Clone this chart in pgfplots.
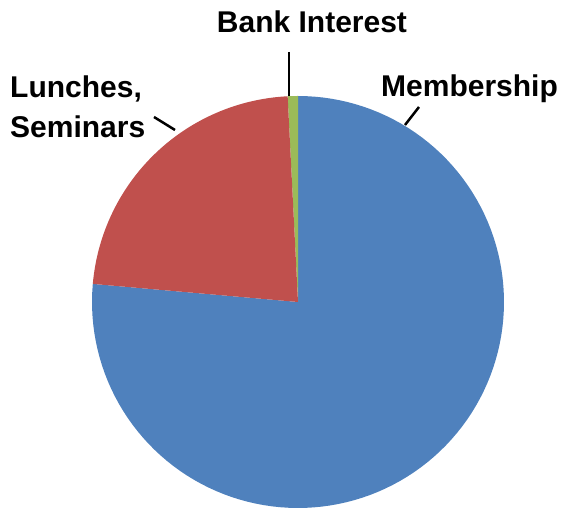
\documentclass[border=0pt]{standalone}
\usepackage{pgfplots}
\pgfplotsset{compat=1.18}
\usepackage{fontspec}
\setmainfont{Liberation Sans}
\definecolor{cblue}{HTML}{4F81BD}
\definecolor{cred}{HTML}{C0504D}
\definecolor{cgreen}{HTML}{9BBB59}
% shares of the pie, in percent
\def\pMember{76.4}
\def\pLunch{22.8}
\def\pBank{0.8}
\pgfmathsetmacro{\aBankEnd}{90+3.6*\pBank}
\pgfmathsetmacro{\aLunchEnd}{\aBankEnd+3.6*\pLunch}
\pgfmathsetmacro{\aMemberStart}{90-3.6*\pMember}
\begin{document}
\begin{tikzpicture}
\begin{axis}[
  scale only axis, width=563pt, height=508pt,
  xmin=0, xmax=563, ymin=0, ymax=508,
  hide axis, clip=false,
  font=\fontsize{30}{36}\selectfont\bfseries,
]
\path (axis cs:0,0) rectangle (axis cs:563,508);
% Membership
\addplot[fill=cblue, draw=none, domain=\aMemberStart:90, samples=120, variable=\t]
  ({298+206*cos(t)},{206+206*sin(t)}) -- (axis cs:298,206) -- cycle;
% Bank Interest
\addplot[fill=cgreen, draw=none, domain=90:\aBankEnd, samples=5, variable=\t]
  ({298+206*cos(t)},{206+206*sin(t)}) -- (axis cs:298,206) -- cycle;
% Lunches, Seminars
\addplot[fill=cred, draw=none, domain=\aBankEnd:\aLunchEnd, samples=60, variable=\t]
  ({298+206*cos(t)},{206+206*sin(t)}) -- (axis cs:298,206) -- cycle;
% leader lines
\draw[black, line width=2.5pt] (axis cs:289,456) -- (axis cs:289,412);
\draw[black, line width=2.5pt] (axis cs:419,401) -- (axis cs:405,383);
\draw[black, line width=2.5pt] (axis cs:154,391) -- (axis cs:175,378);
% labels
\node[anchor=base, inner sep=0pt] at (axis cs:312,475) {Bank Interest};
\node[anchor=base west, inner sep=0pt] at (axis cs:10,410) {Lunches,};
\node[anchor=base west, inner sep=0pt] at (axis cs:10,370) {Seminars};
\node[anchor=base west, inner sep=0pt] at (axis cs:381,411) {Membership};
\end{axis}
\end{tikzpicture}
\end{document}
